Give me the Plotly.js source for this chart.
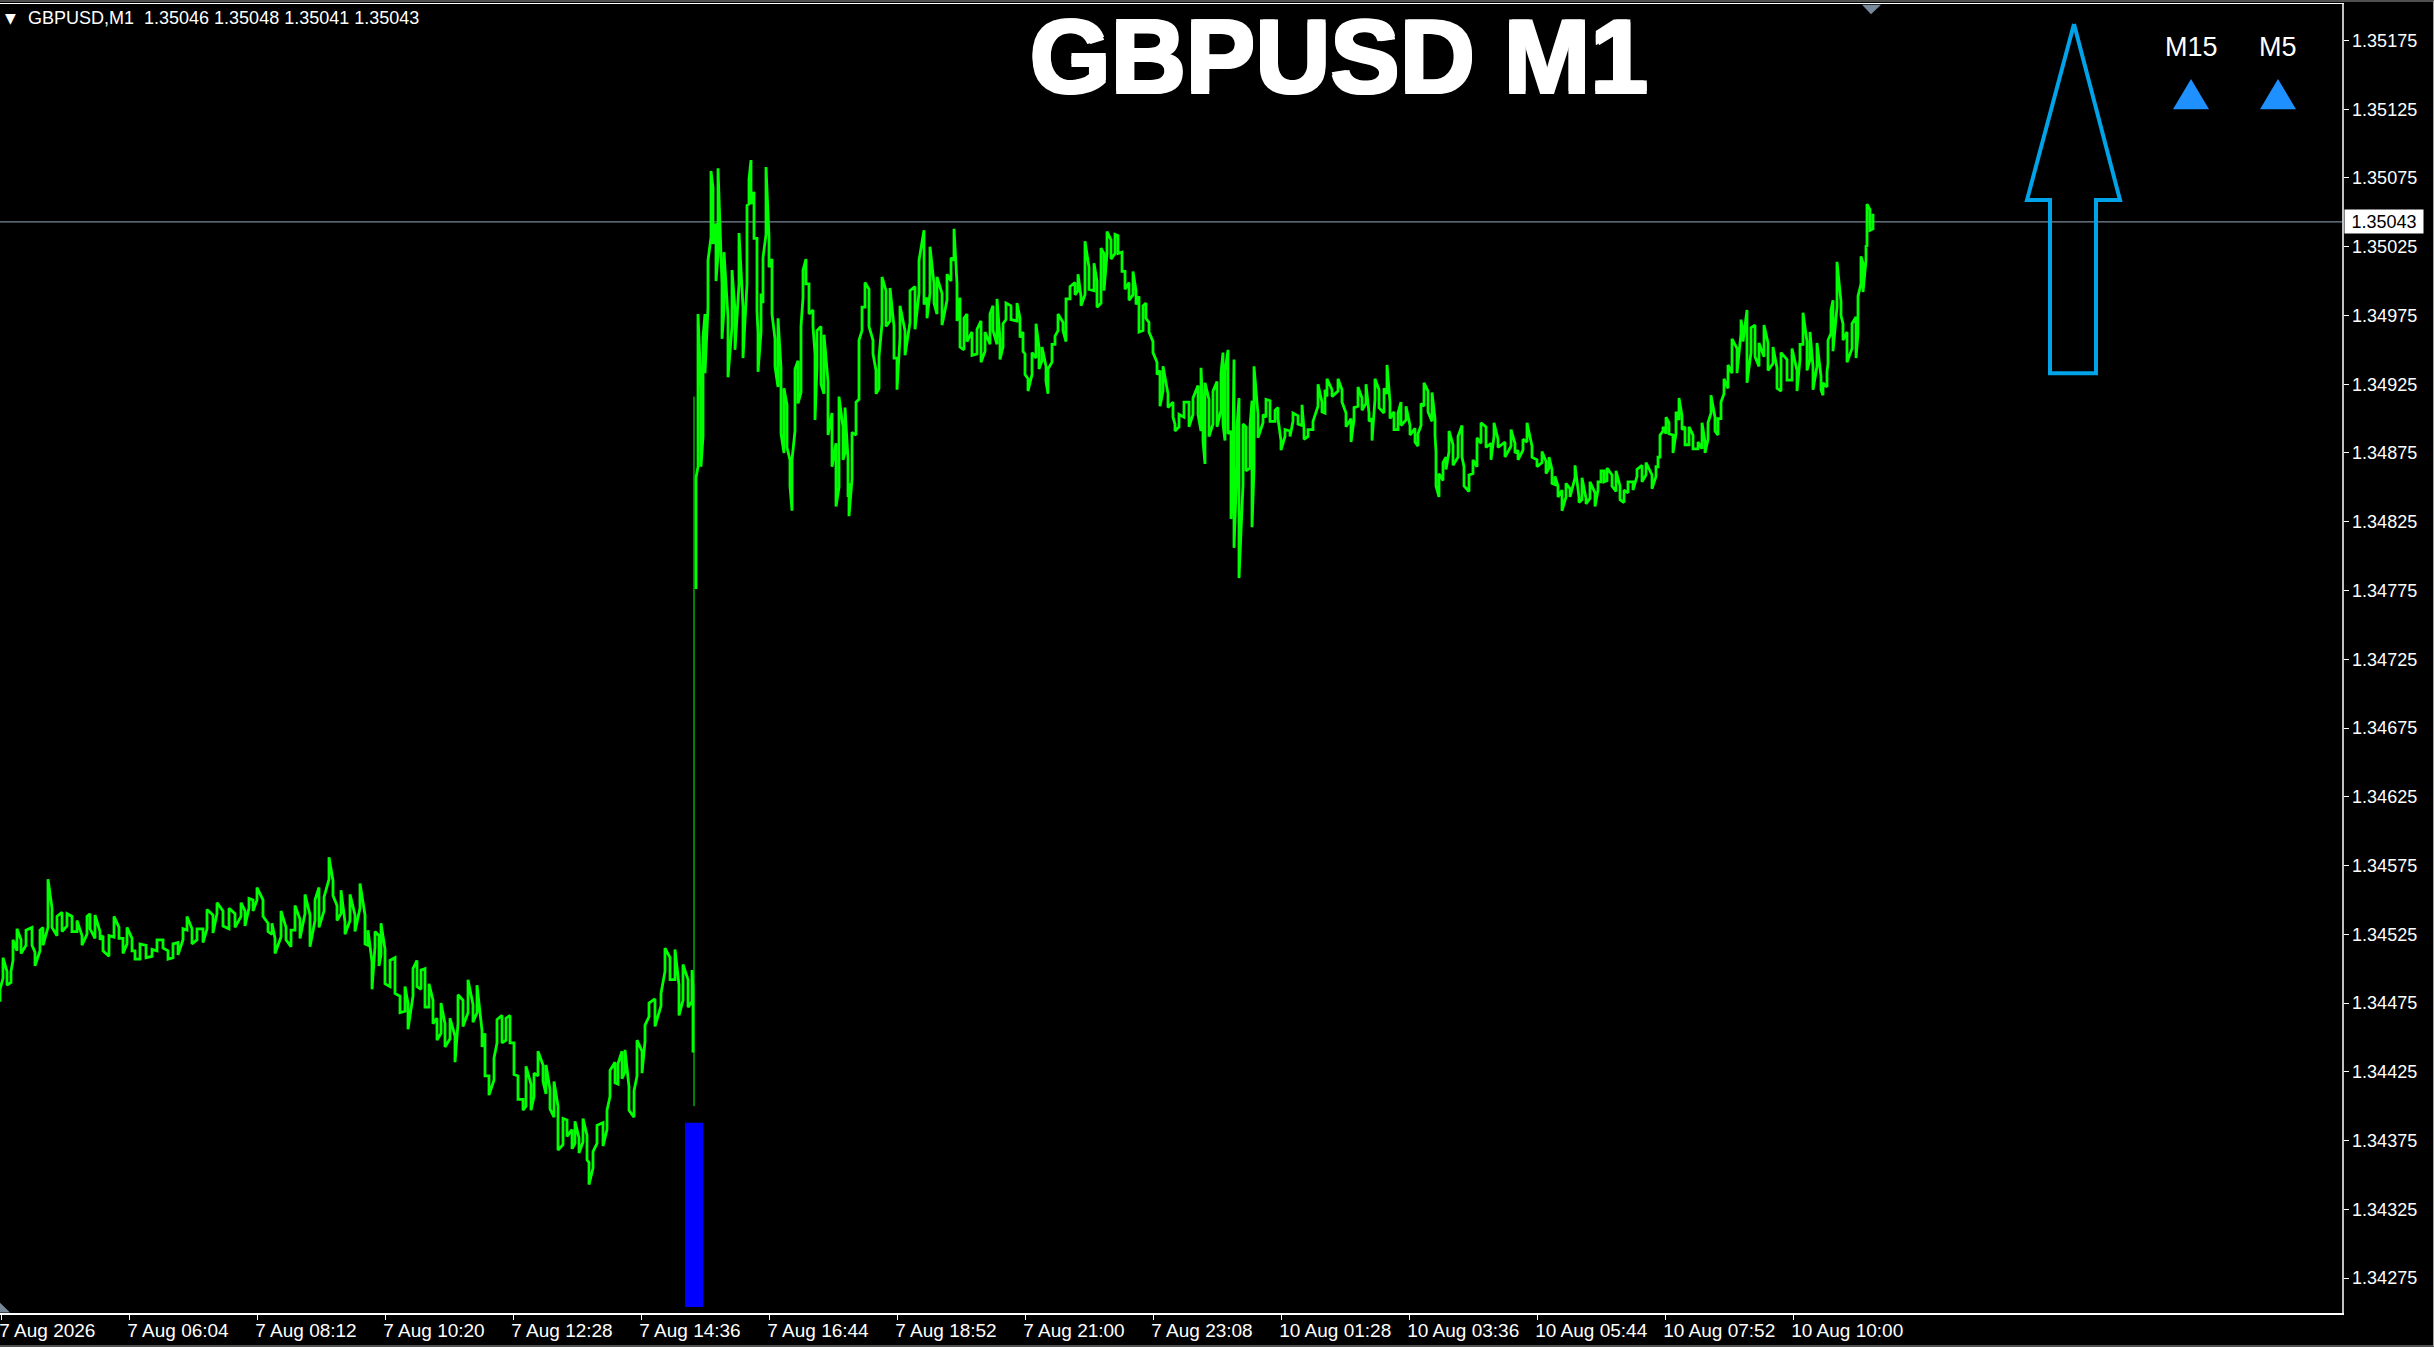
<!DOCTYPE html>
<html>
<head>
<meta charset="utf-8">
<script src="https://cdn.plot.ly/plotly-3.0.1.min.js"></script>
<style>
  html, body { margin: 0; padding: 0; background: #000; overflow: hidden; }
</style>
</head>
<body>
<div id="chart" style="width:2434px;height:1347px"></div>
<script>
// bar number on the M1 axis, one bar per pixel column
var barX = [
0,3,7,11,13,17,21,26,32,35,40,43,48,52,57,62,67,72,77,82,87,90,95,100,103,109,114,119,123,127,132,135,140,146,152,157,163,168,173,178,183,187,192,197,203,207,213,217,223,229,235,241,245,249,253,257,263,268,272,275,281,286,291,295,300,305,310,315,319,324,329,333,337,341,345,350,355,360,365,368,372,375,379,
381,385,390,395,400,405,408,413,417,421,425,429,433,437,441,445,450,455,458,463,468,473,477,482,485,489,494,497,502,506,510,514,518,523,526,531,534,538,543,546,550,554,558,563,567,572,575,579,583,587,589,593,597,603,607,610,615,618,622,625,629,634,637,642,645,649,655,661,665,670,675,679,683,688,692,693,
694,696,698,701,703,705,708,711,713,716,718,722,724,728,732,735,739,743,747,749,751,754,757,758,761,763,766,769,772,775,778,781,784,787,790,792,795,798,801,803,806,809,813,815,817,821,824,828,832,836,839,843,845,848,849,852,856,859,862,865,869,873,876,879,882,886,890,894,897,900,905,910,915,919,924,927,930,934,937,942,947,951,954,957,960,964,967,972,977,
981,985,990,993,997,1000,1003,1006,1011,1017,1020,1023,1025,1028,1032,1036,1039,1042,1046,1048,1052,1055,1058,1063,1066,1070,1075,1078,1081,1085,1089,1094,1097,1101,1104,1107,1111,1115,1118,1122,1125,1129,1133,1136,1139,1143,1146,1149,1153,1157,1160,1163,1168,1173,1175,1179,1184,1189,1193,1198,1201,1203,1205,1209,1213,1217,1221,1223,1225,1228,1231,1233,1234,1237,1239,1243,1246,1250,1252,1254,1258,1263,1266,1270,1275,1278,1281,1285,1290,1293,1298,
1302,1304,1308,1313,1318,1322,1325,1327,1332,1338,1342,1346,1351,1354,1358,1362,1366,1369,1372,1375,1379,1384,1387,1390,1394,1398,1401,1406,1410,1415,1418,1421,1424,1428,1432,1435,1436,1439,1443,1446,1449,1453,1458,1462,1464,1469,1473,1477,1481,1486,1491,1494,1498,1505,1511,1515,1518,1523,1527,1532,1537,1542,1546,1549,1552,1555,1558,1562,1566,1570,1575,1579,1582,1586,1590,1595,1598,
1601,1604,1607,1612,1616,1620,1624,1628,1633,1637,1642,1646,1652,1656,1658,1660,1663,1666,1669,1673,1676,1679,1682,1685,1689,1693,1698,1702,1705,1708,1711,1715,1718,1721,1724,1728,1732,1737,1741,1743,1747,1751,1755,1759,1764,1768,1773,1777,1781,1787,1792,1797,1800,1803,1807,1810,1813,1817,1821,1823,1827,1828,1831,1833,1837,1841,1843,1847,1852,1856,1858,1861,1863,1866,1867,1870,1873
];
var barHigh = [
1.34485,1.34508,1.34498,1.34498,1.34521,1.34529,1.34521,1.34528,1.34530,1.34512,1.34528,1.34530,1.34565,1.34544,1.34538,1.34541,1.34540,1.34538,1.34535,1.34524,1.34538,1.34540,1.34539,1.34527,1.34524,1.34524,1.34538,1.34530,1.34522,1.34530,1.34522,1.34513,1.34518,1.34517,1.34514,1.34521,1.34521,1.34513,1.34518,1.34519,1.34529,1.34538,1.34529,1.34529,1.34529,1.34543,1.34539,1.34548,1.34542,1.34544,1.34540,1.34548,1.34542,1.34551,1.34550,1.34559,1.34550,1.34533,1.34533,1.34522,1.34542,1.34530,1.34528,1.34546,1.34536,1.34554,1.34539,1.34550,1.34559,1.34552,1.34581,1.34564,1.34546,1.34557,1.34534,1.34554,1.34539,1.34562,1.34539,1.34528,1.34505,1.34527,1.34524,
1.34533,1.34514,1.34506,1.34508,1.34480,1.34487,1.34475,1.34500,1.34506,1.34499,1.34500,1.34489,1.34477,1.34464,1.34475,1.34460,1.34464,1.34451,1.34481,1.34477,1.34492,1.34474,1.34488,1.34455,1.34453,1.34422,1.34435,1.34463,1.34466,1.34464,1.34466,1.34446,1.34422,1.34405,1.34429,1.34416,1.34424,1.34440,1.34430,1.34430,1.34412,1.34418,1.34400,1.34391,1.34390,1.34383,1.34389,1.34377,1.34391,1.34379,1.34359,1.34367,1.34386,1.34388,1.34397,1.34426,1.34432,1.34431,1.34440,1.34441,1.34414,1.34411,1.34448,1.34440,1.34459,1.34475,1.34478,1.34482,1.34515,1.34508,1.34514,1.34488,1.34503,1.34492,1.34499,1.34486,
1.34916,1.34857,1.34976,1.34922,1.34959,1.34976,1.35015,1.35080,1.35068,1.35042,1.35082,1.34998,1.35021,1.34974,1.35008,1.34979,1.35035,1.34981,1.35055,1.35074,1.35088,1.35065,1.35031,1.34963,1.34991,1.35017,1.35083,1.35032,1.35016,1.34958,1.34973,1.34937,1.34922,1.34910,1.34870,1.34870,1.34936,1.34942,1.34967,1.35008,1.35016,1.34998,1.34979,1.34947,1.34964,1.34967,1.34961,1.34927,1.34904,1.34882,1.34916,1.34894,1.34908,1.34871,1.34853,1.34890,1.34912,1.34957,1.34981,1.34999,1.34994,1.34957,1.34935,1.34945,1.35003,1.34993,1.34995,1.34967,1.34944,1.34982,1.34964,1.34993,1.34996,1.35015,1.35037,1.34988,1.35025,1.34998,1.35003,1.34991,1.35005,1.35017,1.35038,1.34998,1.34988,1.34973,1.34976,1.34963,1.34965,
1.34971,1.34963,1.34976,1.34982,1.34987,1.34958,1.34969,1.34984,1.34982,1.34984,1.34973,1.34963,1.34947,1.34929,1.34948,1.34969,1.34952,1.34952,1.34938,1.34936,1.34954,1.34960,1.34976,1.34970,1.34987,1.34996,1.34999,1.35005,1.34989,1.35029,1.35010,1.35013,1.35000,1.35024,1.35020,1.35036,1.35030,1.35034,1.35033,1.35021,1.35007,1.34999,1.35007,1.34993,1.34989,1.34982,1.34984,1.34970,1.34956,1.34941,1.34935,1.34938,1.34918,1.34912,1.34896,1.34903,1.34912,1.34912,1.34915,1.34924,1.34937,1.34903,1.34926,1.34914,1.34920,1.34927,1.34933,1.34948,1.34935,1.34950,1.34891,1.34884,1.34943,1.34894,1.34915,1.34896,1.34894,1.34894,1.34913,1.34938,1.34903,1.34903,1.34914,1.34913,1.34906,1.34908,1.34884,1.34892,1.34891,1.34904,1.34902,
1.34910,1.34892,1.34892,1.34898,1.34925,1.34912,1.34921,1.34929,1.34921,1.34929,1.34921,1.34904,1.34900,1.34908,1.34923,1.34915,1.34925,1.34904,1.34900,1.34929,1.34921,1.34922,1.34939,1.34912,1.34905,1.34904,1.34912,1.34909,1.34895,1.34893,1.34889,1.34911,1.34926,1.34920,1.34919,1.34900,1.34876,1.34860,1.34868,1.34872,1.34891,1.34881,1.34887,1.34895,1.34865,1.34859,1.34870,1.34886,1.34897,1.34894,1.34882,1.34897,1.34885,1.34883,1.34892,1.34882,1.34877,1.34885,1.34897,1.34880,1.34870,1.34876,1.34869,1.34872,1.34863,1.34858,1.34851,1.34848,1.34853,1.34849,1.34866,1.34843,1.34857,1.34842,1.34854,1.34846,1.34854,
1.34862,1.34862,1.34864,1.34859,1.34862,1.34851,1.34848,1.34854,1.34854,1.34863,1.34866,1.34868,1.34859,1.34865,1.34872,1.34888,1.34894,1.34901,1.34897,1.34888,1.34905,1.34915,1.34902,1.34894,1.34894,1.34888,1.34883,1.34897,1.34883,1.34897,1.34917,1.34901,1.34900,1.34912,1.34929,1.34939,1.34958,1.34951,1.34972,1.34963,1.34979,1.34966,1.34968,1.34955,1.34968,1.34955,1.34952,1.34937,1.34948,1.34943,1.34951,1.34935,1.34954,1.34977,1.34956,1.34963,1.34938,1.34955,1.34931,1.34926,1.34934,1.34957,1.34979,1.34986,1.35014,1.34985,1.34969,1.34963,1.34969,1.34974,1.34989,1.35018,1.35013,1.35026,1.35056,1.35052,1.35049
];
var barLow = [
1.34476,1.34493,1.34488,1.34490,1.34506,1.34513,1.34511,1.34517,1.34517,1.34502,1.34513,1.34517,1.34530,1.34530,1.34524,1.34527,1.34531,1.34527,1.34527,1.34517,1.34525,1.34529,1.34522,1.34521,1.34513,1.34509,1.34523,1.34522,1.34511,1.34518,1.34513,1.34507,1.34507,1.34508,1.34509,1.34513,1.34515,1.34507,1.34508,1.34510,1.34521,1.34528,1.34518,1.34521,1.34519,1.34529,1.34526,1.34540,1.34531,1.34529,1.34530,1.34538,1.34531,1.34544,1.34542,1.34550,1.34538,1.34527,1.34525,1.34511,1.34523,1.34521,1.34516,1.34528,1.34522,1.34540,1.34516,1.34535,1.34530,1.34542,1.34565,1.34553,1.34535,1.34540,1.34525,1.34535,1.34527,1.34544,1.34518,1.34517,1.34485,1.34516,1.34502,
1.34510,1.34489,1.34487,1.34482,1.34468,1.34469,1.34456,1.34480,1.34487,1.34485,1.34472,1.34472,1.34460,1.34448,1.34453,1.34443,1.34449,1.34432,1.34460,1.34458,1.34468,1.34461,1.34468,1.34443,1.34422,1.34408,1.34419,1.34446,1.34446,1.34448,1.34446,1.34423,1.34405,1.34397,1.34400,1.34397,1.34407,1.34422,1.34418,1.34409,1.34398,1.34392,1.34368,1.34372,1.34378,1.34369,1.34373,1.34366,1.34374,1.34361,1.34343,1.34355,1.34373,1.34371,1.34383,1.34407,1.34417,1.34416,1.34420,1.34425,1.34397,1.34392,1.34422,1.34424,1.34447,1.34465,1.34458,1.34473,1.34498,1.34492,1.34492,1.34466,1.34477,1.34472,1.34476,1.34439,
1.34400,1.34776,1.34865,1.34865,1.34887,1.34933,1.34981,1.35032,1.35027,1.35000,1.35019,1.34958,1.34979,1.34930,1.34967,1.34950,1.34998,1.34944,1.34998,1.35056,1.35056,1.35031,1.34978,1.34934,1.34963,1.34984,1.35034,1.35010,1.34976,1.34938,1.34923,1.34889,1.34875,1.34879,1.34851,1.34833,1.34891,1.34911,1.34919,1.34988,1.34998,1.34976,1.34967,1.34899,1.34938,1.34925,1.34918,1.34888,1.34865,1.34836,1.34850,1.34870,1.34875,1.34843,1.34829,1.34856,1.34888,1.34914,1.34964,1.34981,1.34967,1.34947,1.34918,1.34922,1.34969,1.34967,1.34971,1.34944,1.34921,1.34959,1.34946,1.34970,1.34965,1.34991,1.34983,1.34973,1.34991,1.34984,1.34976,1.34968,1.34986,1.35000,1.35015,1.34971,1.34952,1.34950,1.34956,1.34946,1.34947,
1.34941,1.34949,1.34954,1.34964,1.34954,1.34943,1.34952,1.34972,1.34972,1.34971,1.34959,1.34949,1.34932,1.34920,1.34932,1.34944,1.34936,1.34942,1.34927,1.34918,1.34941,1.34954,1.34964,1.34964,1.34956,1.34987,1.34990,1.34993,1.34982,1.34990,1.34994,1.34993,1.34981,1.34984,1.34993,1.35020,1.35016,1.35020,1.35020,1.35007,1.34994,1.34986,1.34990,1.34983,1.34963,1.34964,1.34973,1.34963,1.34948,1.34932,1.34909,1.34920,1.34908,1.34901,1.34891,1.34894,1.34901,1.34894,1.34903,1.34903,1.34891,1.34884,1.34867,1.34887,1.34896,1.34894,1.34906,1.34896,1.34884,1.34889,1.34827,1.34872,1.34806,1.34867,1.34784,1.34852,1.34862,1.34864,1.34821,1.34864,1.34886,1.34897,1.34901,1.34898,1.34898,1.34900,1.34877,1.34887,1.34887,1.34898,1.34896,
1.34895,1.34885,1.34887,1.34892,1.34909,1.34905,1.34904,1.34916,1.34916,1.34920,1.34912,1.34894,1.34883,1.34899,1.34909,1.34906,1.34911,1.34898,1.34884,1.34914,1.34908,1.34904,1.34918,1.34900,1.34892,1.34892,1.34895,1.34899,1.34888,1.34883,1.34880,1.34895,1.34909,1.34905,1.34898,1.34888,1.34851,1.34843,1.34855,1.34863,1.34876,1.34866,1.34872,1.34872,1.34851,1.34847,1.34860,1.34865,1.34882,1.34879,1.34870,1.34887,1.34879,1.34872,1.34880,1.34875,1.34870,1.34877,1.34883,1.34872,1.34865,1.34868,1.34860,1.34864,1.34853,1.34852,1.34843,1.34833,1.34843,1.34843,1.34857,1.34839,1.34841,1.34838,1.34842,1.34836,1.34848,
1.34854,1.34854,1.34855,1.34851,1.34847,1.34841,1.34839,1.34846,1.34848,1.34858,1.34854,1.34859,1.34849,1.34858,1.34865,1.34872,1.34891,1.34889,1.34889,1.34875,1.34889,1.34899,1.34892,1.34881,1.34881,1.34878,1.34878,1.34878,1.34875,1.34885,1.34904,1.34891,1.34888,1.34900,1.34918,1.34922,1.34933,1.34933,1.34962,1.34956,1.34926,1.34948,1.34945,1.34938,1.34945,1.34935,1.34940,1.34922,1.34920,1.34928,1.34928,1.34920,1.34943,1.34954,1.34935,1.34943,1.34921,1.34938,1.34921,1.34917,1.34923,1.34940,1.34962,1.34949,1.34981,1.34975,1.34957,1.34941,1.34951,1.34944,1.34962,1.34998,1.34992,1.35015,1.35025,1.35037,1.35038
];

// the jump bar is drawn on its own, thin
var jumpBar = 694;

// signal bar under the jump
var signalBar = [694];
var signalTop = [1.34388];
var signalBase = [1.34254];

var lastClose = 1.35043;
var header = 'GBPUSD,M1  1.35046 1.35048 1.35041 1.35043';

var tickBars = [1,129,257,385,513,641,769,897,1025,1153,1281,1409,1537,1665,1793];
var tickLabels = ['7 Aug 2026','7 Aug 06:04','7 Aug 08:12','7 Aug 10:20','7 Aug 12:28','7 Aug 14:36','7 Aug 16:44','7 Aug 18:52','7 Aug 21:00','7 Aug 23:08','10 Aug 01:28','10 Aug 03:36','10 Aug 05:44','10 Aug 07:52','10 Aug 10:00'];

// outline arrow object
var arrowBars = [2074,2120,2096,2096,2050,2050,2027,2074];
var arrowPrices = [1.35187,1.35059,1.35059,1.34933,1.34933,1.35059,1.35059,1.35187];

var panelNames = ['M15','M5'];
var panelBars = [2191,2278];
var panelLabelPrice = 1.35170;
var triBase = 1.35125, triTip = 1.35147;

// chart shift and scale-fix markers
var shiftBars = [1862,1881,1871,1862];
var shiftPrices = [1.35201,1.35201,1.35194,1.35201];
var cornerBars = [0,10,0,0];
var cornerPrices = [1.34257,1.34250,1.34250,1.34257];

// vertical hi/lo strokes joined into one line, each bar starts from the end nearest the previous one
var lineX = [], lineY = [], jumpIdx = barX.indexOf(jumpBar);
barX.forEach(function(b, i) {
  if (i === jumpIdx) { lineX.push(null); lineY.push(null); return; }
  var last = lineY.length && lineY[lineY.length - 1] !== null ? lineY[lineY.length - 1] : barLow[i];
  lineX.push(b, b);
  if (Math.abs(barHigh[i] - last) < Math.abs(barLow[i] - last)) lineY.push(barHigh[i], barLow[i]);
  else lineY.push(barLow[i], barHigh[i]);
});

var traces = [
  {x: lineX, y: lineY, mode: 'lines', line: {color: '#00ff00', width: 2.8, simplify: false}, hoverinfo: 'skip'},
  {x: [jumpBar, jumpBar], y: [barLow[jumpIdx], barHigh[jumpIdx]], mode: 'lines', line: {color: '#00ff00', width: 1}, hoverinfo: 'skip'},
  {x: signalBar, y: [signalTop[0] - signalBase[0]], base: signalBase, type: 'bar', width: 18, marker: {color: '#0000ff', line: {width: 0}}, hoverinfo: 'skip'},
  {x: arrowBars, y: arrowPrices, mode: 'lines', line: {color: '#00a2e8', width: 4}, hoverinfo: 'skip'},
  {x: shiftBars, y: shiftPrices, mode: 'lines', fill: 'toself', fillcolor: '#778899', line: {width: 0}, hoverinfo: 'skip'},
  {x: cornerBars, y: cornerPrices, mode: 'lines', fill: 'toself', fillcolor: '#778899', line: {width: 0}, hoverinfo: 'skip'}
];
panelBars.forEach(function(b) {
  traces.push({x: [b - 18, b + 18, b, b - 18], y: [triBase, triBase, triTip, triBase], mode: 'lines', fill: 'toself', fillcolor: '#1e90ff', line: {width: 0}, hoverinfo: 'skip'});
});

var textFont = 'Liberation Sans, Arial, sans-serif';
var notes = [
  {xref: 'x', yref: 'y', x: 26, y: 1.35191, text: header, showarrow: false, xanchor: 'left', yanchor: 'middle', font: {family: textFont, size: 18, color: '#fff'}},
  {xref: 'x', yref: 'y', x: 10, y: 1.35191, text: '▼', showarrow: false, xanchor: 'center', yanchor: 'middle', font: {family: 'DejaVu Sans', size: 14, color: '#fff'}},
  {xref: 'paper', yref: 'y', x: 1, xshift: 2, y: lastClose, text: '1.35043', showarrow: false, xanchor: 'left', yanchor: 'middle', align: 'center', width: 78, height: 23, bgcolor: '#fff', borderpad: 0, font: {family: textFont, size: 18, color: '#000'}}
];
panelNames.forEach(function(n, i) {
  notes.push({xref: 'x', yref: 'y', x: panelBars[i], y: panelLabelPrice, text: n, showarrow: false, font: {family: textFont, size: 27, color: '#fff'}});
});

var layout = {
  width: 2434, height: 1347, autosize: false,
  paper_bgcolor: '#000', plot_bgcolor: '#000',
  margin: {l: 0, r: 92, t: 4, b: 34, pad: 0},
  showlegend: false,
  title: {text: 'GBPUSD M1', x: 1339 / 2434, xref: 'container', xanchor: 'center', y: 1 - 56 / 1347, yref: 'container', yanchor: 'middle', font: {family: textFont, size: 104, color: '#fff', weight: 700, shadow: '1.5px 1.5px #fff, -1.5px -1.5px #fff, 1.5px -1.5px #fff, -1.5px 1.5px #fff'}},
  xaxis: {
    range: [0, 2342], showgrid: false, zeroline: false, showline: true, linecolor: '#fff', linewidth: 1.5, mirror: true,
    tickmode: 'array', tickvals: tickBars, ticktext: tickLabels, ticks: 'outside', ticklen: 5, tickcolor: '#fff', tickwidth: 1,
    ticklabelposition: 'outside right', ticklabelshift: -3, ticklabeloverflow: 'allow', tickangle: 0,
    tickfont: {family: textFont, size: 19, color: '#fff'}
  },
  yaxis: {
    side: 'right', range: [1.342496, 1.352015], showgrid: false, zeroline: false, showline: true, linecolor: '#c0c0c0', linewidth: 1.5,
    tick0: 1.34275, dtick: 0.0005, tickformat: '.5f', ticks: 'outside', ticklen: 5, tickcolor: '#fff', tickwidth: 1,
    tickfont: {family: textFont, size: 18, color: '#fff'}
  },
  annotations: notes,
  shapes: [
    {type: 'line', xref: 'paper', yref: 'y', x0: 0, x1: 1, y0: lastClose, y1: lastClose, line: {color: '#778899', width: 1.2}, layer: 'below'},
    // window frame edges
    {type: 'line', xref: 'paper', yref: 'paper', x0: 0, x1: 2434 / 2342, y0: 1 + 3 / 1309, y1: 1 + 3 / 1309, line: {color: '#a0a0a0', width: 1}},
    {type: 'line', xref: 'paper', yref: 'paper', x0: 0, x1: 2434 / 2342, y0: -33 / 1309, y1: -33 / 1309, line: {color: '#a0a0a0', width: 1}},
    {type: 'line', xref: 'paper', yref: 'paper', x0: 2433.5 / 2342, x1: 2433.5 / 2342, y0: -33 / 1309, y1: 1 + 3 / 1309, line: {color: '#a0a0a0', width: 1}}
  ]
};

Plotly.newPlot('chart', traces, layout, {staticPlot: true, displayModeBar: false});
</script>
</body>
</html>
